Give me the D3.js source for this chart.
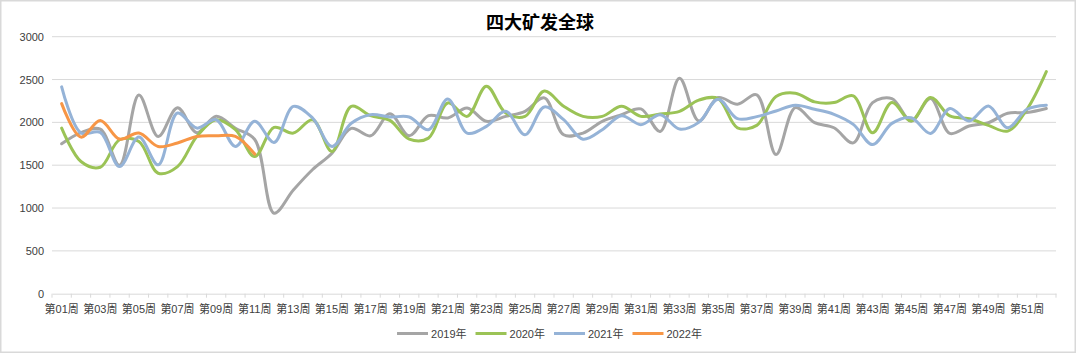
<!DOCTYPE html>
<html>
<head>
<meta charset="utf-8">
<script src="https://cdn.jsdelivr.net/npm/d3@7"></script>
<style>
  html, body { margin: 0; padding: 0; background: #fff; }
  svg { display: block; font-family: "Liberation Sans", Arial, "Noto Sans CJK SC", sans-serif; }
</style>
</head>
<body>
<svg id="chart" width="1080" height="355"></svg>
<script>
// Kategorien: Kalenderwochen
const weeks = d3.range(1, 53).map(w => '第' + String(w).padStart(2, '0') + '周');

// Werte je Jahr
const y2019 = [1750, 1880, 1920, 1500, 2320, 1835, 2170, 1880, 2070, 1930,
               1800, 940, 1210, 1450, 1640, 1930, 1843, 2100, 1843, 2078,
               2051, 2169, 2012, 2070, 2129, 2286, 1855, 1875, 2012, 2090,
               2157, 1894, 2514, 2016, 2290, 2212, 2321, 1624, 2172, 1996,
               1937, 1761, 2231, 2278, 2016, 2278, 1871, 1957, 1996, 2106,
               2114, 2161];
const y2020 = [1933, 1543, 1476, 1797, 1777, 1406, 1484, 1836, 2031, 1914,
               1601, 1941, 1875, 2031, 1660, 2187, 2078, 2023, 1804, 1816,
               2227, 2070, 2423, 2110, 2070, 2365, 2188, 2070, 2070, 2188,
               2070, 2098, 2129, 2260, 2278, 1937, 1965, 2302, 2341, 2239,
               2231, 2310, 1878, 2231, 2016, 2290, 2075, 2043, 1965, 1898,
               2153, 2592];
const y2021 = [2414, 1875, 1883, 1484, 1828, 1504, 2109, 1933, 2031, 1719,
               2012, 1766, 2187, 2050, 1719, 1990, 2090, 2063, 2063, 1914,
               2274, 1875, 1953, 2129, 1855, 2180, 2031, 1804, 1914, 2078,
               1973, 2090, 1922, 2000, 2270, 2043, 2067, 2133, 2200, 2153,
               2094, 1976, 1741, 1988, 2055, 1871, 2161, 2016, 2192, 1937,
               2153, 2200];
const y2022 = [2219, 1828, 2023, 1805, 1875, 1719, 1760, 1836, 1844, 1836, 1630];

const yTicks = [0, 500, 1000, 1500, 2000, 2500, 3000];

const series = [
    { name: '2019年', values: y2019, color: '#a5a5a5' },
    { name: '2020年', values: y2020, color: '#9bc356' },
    { name: '2021年', values: y2021, color: '#95b3d7' },
    { name: '2022年', values: y2022, color: '#f79646' }
];

const textColor = '#404040';
const svg = d3.select('#chart');

// Rahmen
svg.append('rect')
    .attr('x', 0.75).attr('y', 0.75)
    .attr('width', 1074.5).attr('height', 351.5)
    .attr('fill', '#fff')
    .attr('stroke', '#d9d9d9')
    .attr('stroke-width', 1.5);

// Skalen
const x = d3.scaleBand().domain(weeks).range([52, 1056]).padding(0);
const y = d3.scaleLinear().domain([0, 3000]).range([293.7, 36.7]);
const cx = w => x(w) + x.bandwidth() / 2;

// Gitterlinien
svg.append('g')
    .selectAll('line')
    .data(yTicks.filter(d => d > 0))
    .enter()
    .append('line')
    .attr('x1', 52).attr('x2', 1056)
    .attr('y1', d => y(d)).attr('y2', d => y(d))
    .attr('stroke', '#d9d9d9')
    .attr('stroke-width', 1);

// Y-Achse (nur Beschriftung)
const yAxis = svg.append('g')
    .attr('transform', 'translate(52,0)')
    .call(d3.axisLeft(y).tickValues(yTicks).tickFormat(d3.format('d')).tickSize(0).tickPadding(8));
yAxis.select('.domain').remove();
yAxis.selectAll('text')
    .style('font-size', '11px')
    .style('fill', textColor);

// X-Achse
const xAxis = svg.append('g')
    .attr('transform', `translate(0,${y(0)})`)
    .call(d3.axisBottom(x)
        .tickSize(0)
        .tickPadding(12)
        .tickFormat((d, i) => i % 2 === 0 ? d : ''));
xAxis.select('.domain')
    .attr('stroke', '#d9d9d9');
xAxis.selectAll('text')
    .style('font-size', '11px')
    .style('fill', textColor)
    .style('font-family', '"Liberation Sans", Arial, "Noto Sans CJK SC", sans-serif');

// Teilstriche an den Kategoriegrenzen
const bounds = weeks.map(w => x(w)).concat([x.range()[1]]);
xAxis.selectAll('.cat-tick')
    .data(bounds)
    .enter()
    .append('line')
    .attr('class', 'cat-tick')
    .attr('x1', d => d).attr('x2', d => d)
    .attr('y1', 0).attr('y2', 4)
    .attr('stroke', '#d9d9d9');

// Linien
const line = d3.line()
    .x((d, i) => cx(weeks[i]))
    .y(d => y(d))
    .curve(d3.curveCatmullRom.alpha(0.5));

svg.append('g')
    .selectAll('path')
    .data(series)
    .enter()
    .append('path')
    .attr('d', d => line(d.values))
    .attr('fill', 'none')
    .attr('stroke', d => d.color)
    .attr('stroke-width', 3)
    .attr('stroke-linejoin', 'round')
    .attr('stroke-linecap', 'round');

// Titel
svg.append('text')
    .attr('x', 540)
    .attr('y', 29)
    .attr('text-anchor', 'middle')
    .style('font-family', '"Noto Sans CJK SC", sans-serif')
    .style('font-size', '18px')
    .style('font-weight', '700')
    .style('fill', '#000')
    .text('四大矿发全球');

// Legende
const legend = svg.append('g');
let lx = 0;
series.forEach(s => {
    const item = legend.append('g').attr('transform', `translate(${lx},0)`);
    item.append('line')
        .attr('x1', 0).attr('x2', 31)
        .attr('y1', 0).attr('y2', 0)
        .attr('stroke', s.color)
        .attr('stroke-width', 3);
    const t = item.append('text')
        .attr('x', 34)
        .attr('y', 4)
        .style('font-size', '11px')
        .style('fill', textColor)
        .text(s.name);
    lx += 34 + t.node().getComputedTextLength() + 9;
});
const legendWidth = lx - 9;
legend.attr('transform', `translate(${549.5 - legendWidth / 2},333.5)`);
</script>
</body>
</html>
